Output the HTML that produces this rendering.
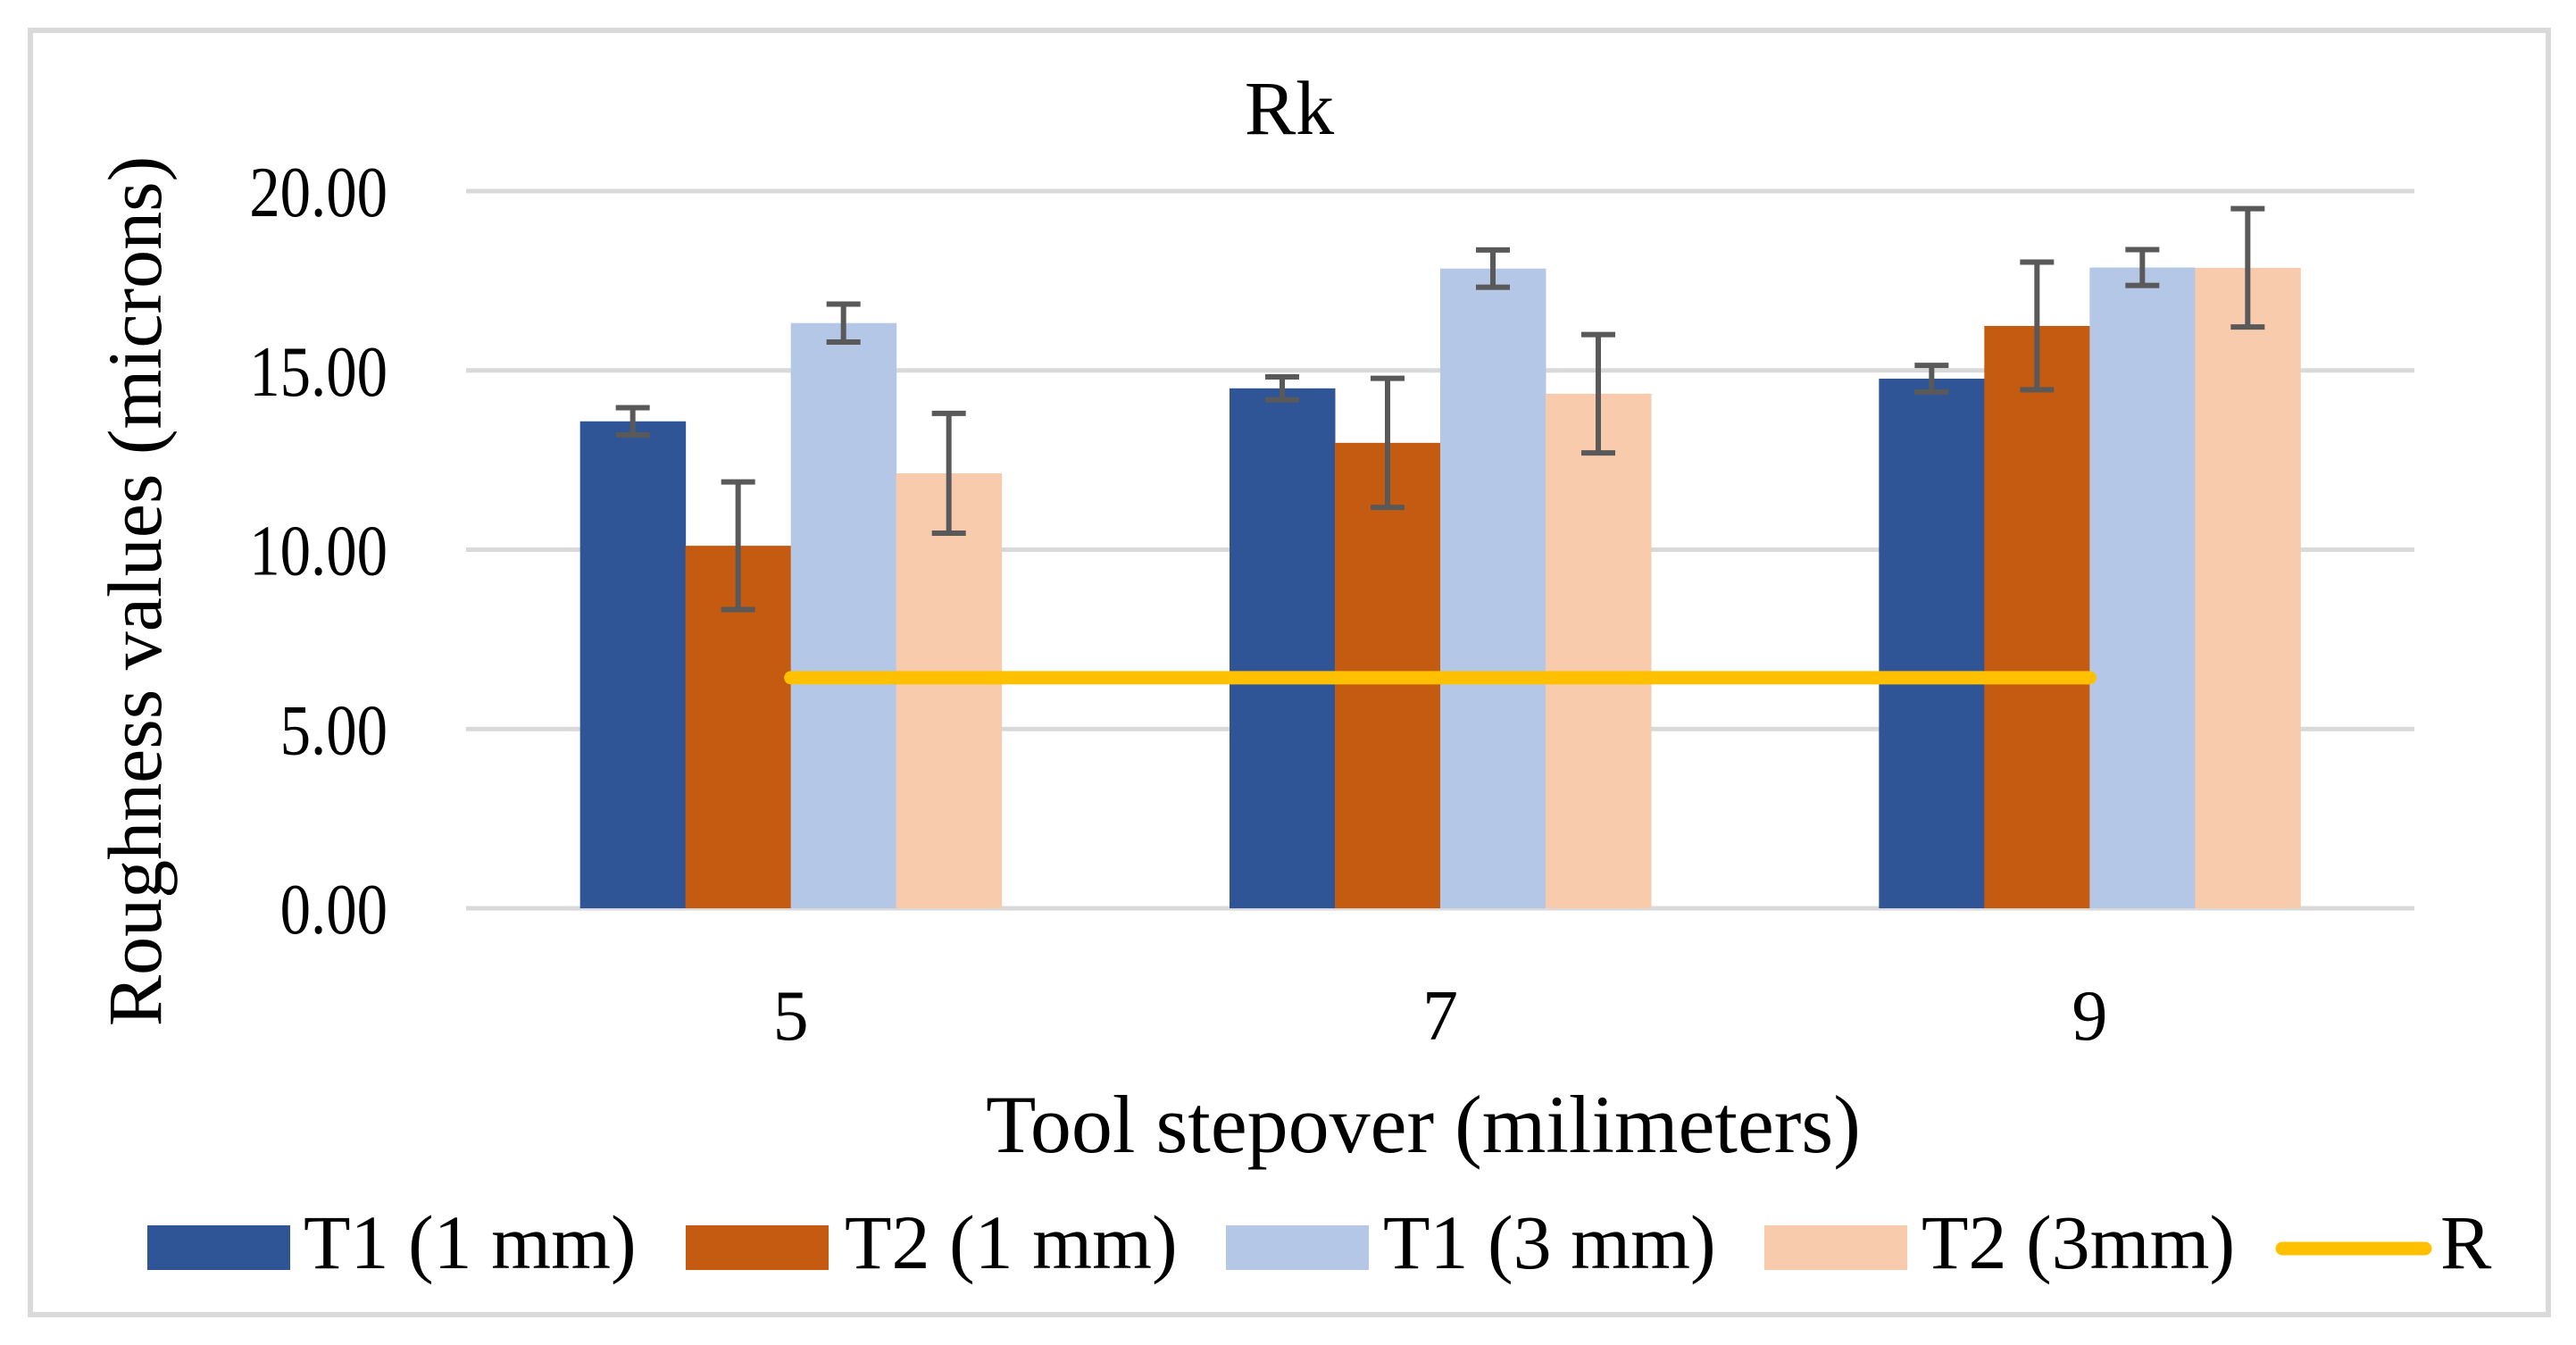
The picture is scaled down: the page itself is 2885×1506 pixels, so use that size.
<!DOCTYPE html>
<html><head><meta charset="utf-8"><style>
html,body{margin:0;padding:0;background:#fff;}
svg{display:block;font-family:"Liberation Serif",serif;}
</style></head><body>
<svg id="chart" width="2885" height="1506" viewBox="0 0 2885 1506" xmlns="http://www.w3.org/2000/svg">
<rect x="34" y="34" width="2820" height="1438" fill="#fff" stroke="#d9d9d9" stroke-width="6"/>
<text x="1444" y="150" font-size="86" text-anchor="middle" fill="#000">Rk</text>
<g id="grid"></g>
<g id="yticks"></g>
<g id="bars"></g>
<g id="errs"></g>
<g id="rline"></g>
<g id="xticks"></g>
<text transform="translate(180,662) rotate(-90)" font-size="86" text-anchor="middle" fill="#000">Roughness values (microns)</text>
<text x="1594" y="1290" font-size="92" text-anchor="middle" fill="#000">Tool stepover (milimeters)</text>
<g font-size="86" fill="#000">
<rect x="165" y="1372" width="160" height="50" fill="#2F5597"/>
<text x="340" y="1420">T1 (1 mm)</text>
<rect x="768" y="1372" width="160" height="50" fill="#C55A11"/>
<text x="946" y="1420">T2 (1 mm)</text>
<rect x="1373" y="1372" width="160" height="50" fill="#B4C7E7"/>
<text x="1549" y="1420">T1 (3 mm)</text>
<rect x="1976" y="1372" width="160" height="50" fill="#F8CBAD"/>
<text x="2152" y="1420">T2 (3mm)</text>
<line x1="2556" y1="1398" x2="2716" y2="1398" stroke="#FFC000" stroke-width="15" stroke-linecap="round"/>
<text x="2733" y="1420">R</text>
</g>
</svg>
<script>
const categories = ["5","7","9"];
const seriesNames = ["T1 (1 mm)","T2 (1 mm)","T1 (3 mm)","T2 (3mm)"];
const t1_1mm = [13.58, 14.5, 14.77];
const t2_1mm = [10.11, 12.98, 16.24];
const t1_3mm = [16.32, 17.84, 17.87];
const t2_3mm = [12.13, 14.35, 17.86];
const err_t1_1mm = [0.38, 0.32, 0.37];
const err_t2_1mm = [1.78, 1.8, 1.78];
const err_t1_3mm = [0.53, 0.52, 0.5];
const err_t2_3mm = [1.67, 1.65, 1.65];
const rValues = [6.43, 6.43, 6.43];
const yTicks = [0, 5, 10, 15, 20];
const yTickLabels = ["0.00","5.00","10.00","15.00","20.00"];

const NS = "http://www.w3.org/2000/svg";
const plotL = 522, plotR = 2704, y0px = 1017, y20px = 214;
const yMax = 20;
const band = (plotR - plotL) / categories.length;
const barW = 118;
const colors = ["#2F5597","#C55A11","#B4C7E7","#F8CBAD"];
const series = [t1_1mm, t2_1mm, t1_3mm, t2_3mm];
const errs = [err_t1_1mm, err_t2_1mm, err_t1_3mm, err_t2_3mm];
function yScale(v){ return y0px - (v / yMax) * (y0px - y20px); }
function xCenter(i){ return plotL + band * (i + 0.5); }
function mk(tag, attrs, parent){ const e = document.createElementNS(NS, tag); for (const k in attrs) e.setAttribute(k, attrs[k]); parent.appendChild(e); return e; }

const grid = document.getElementById('grid');
const yt = document.getElementById('yticks');
yTicks.forEach((t, i) => {
  const l = mk('line', {x1: plotL, x2: plotR, y1: yScale(t), y2: yScale(t), stroke: '#d9d9d9', 'stroke-width': 5}, grid);
  
  
  const tx = mk('text', {x: 0, y: 0, transform: 'translate(434,' + (yScale(t) + 28) + ') scale(0.86,1)', 'font-size': 80, 'text-anchor': 'end', fill: '#000'}, yt);
  tx.textContent = yTickLabels[i];
  
  
});

const bars = document.getElementById('bars');
const eg = document.getElementById('errs');
categories.forEach((c, i) => {
  const left = xCenter(i) - 2 * barW;
  series.forEach((s, j) => {
    const x = left + j * barW;
    const r = mk('rect', {x: x, y: yScale(s[i]), width: barW + 0.5, height: y0px - yScale(s[i]), fill: colors[j]}, bars);
    
    
    const cx = x + barW / 2, hi = yScale(s[i] + errs[j][i]), lo = yScale(s[i] - errs[j][i]);
    const g = mk('g', {stroke: '#595959', 'stroke-width': 6}, eg);
    
    
    mk('line', {x1: cx, x2: cx, y1: hi, y2: lo}, g);
    mk('line', {x1: cx - 19, x2: cx + 19, y1: hi, y2: hi}, g);
    mk('line', {x1: cx - 19, x2: cx + 19, y1: lo, y2: lo}, g);
  });
  const tx = mk('text', {x: xCenter(i), y: 1164, 'font-size': 80, 'text-anchor': 'middle', fill: '#000'}, document.getElementById('xticks'));
  tx.textContent = c;
  
  
});

const rl = document.getElementById('rline');
const pts = rValues.map((v, i) => xCenter(i) + ',' + yScale(v)).join(' ');
const pl = mk('polyline', {points: pts, fill: 'none', stroke: '#FFC000', 'stroke-width': 15, 'stroke-linecap': 'round', 'stroke-linejoin': 'round'}, rl);


</script>
</body></html>
